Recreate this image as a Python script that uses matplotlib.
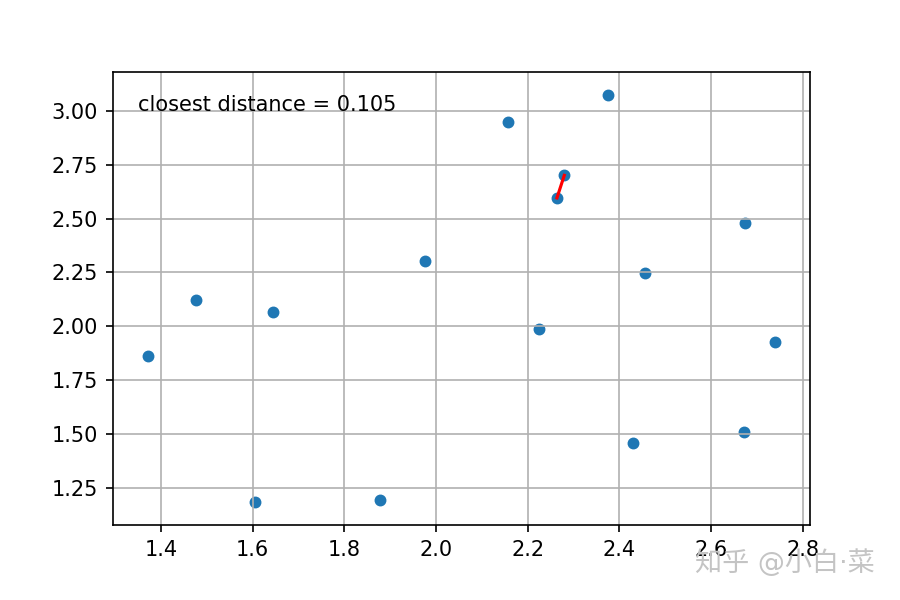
import matplotlib
matplotlib.use("Agg")
import matplotlib.pyplot as plt
import numpy as np

x_vals = [2.158, 1.977, 1.477, 1.644, 2.3755, 2.280, 2.264, 2.6735, 2.456,
          1.371, 2.225, 1.6045, 1.879, 2.739, 2.430, 2.671]
y_vals = [2.947, 2.302, 2.122, 2.065, 3.073, 2.701, 2.596, 2.478, 2.246,
          1.861, 1.986, 1.183, 1.192, 1.926, 1.457, 1.508]
pair_x = [2.264, 2.280]
pair_y = [2.596, 2.701]
label = "closest distance = 0.105"
watermark = "知乎 @小白·菜"

fig = plt.figure(figsize=(6, 4), dpi=150)
ax = fig.add_axes([0.125, 0.125, 0.775, 0.755])
ax.scatter(x_vals, y_vals, s=22, color="#1f77b4")
ax.plot(pair_x, pair_y, color="red", linewidth=1.5)
ax.grid(True)
ax.set_xlim(1.2945, 2.816)
ax.set_ylim(1.0768, 3.181)
ax.set_xticks([1.4, 1.6, 1.8, 2.0, 2.2, 2.4, 2.6, 2.8])
ax.set_yticks([1.25, 1.5, 1.75, 2.0, 2.25, 2.5, 2.75, 3.0])
ax.text(1.35, 3.0, label, fontsize=10)
fig.text(0.772, 0.062, watermark, fontsize=13, color="#c4c4c4",
         family=["DejaVu Sans", "Noto Sans CJK SC"], va="center")
fig.savefig("out.png", dpi=150)
